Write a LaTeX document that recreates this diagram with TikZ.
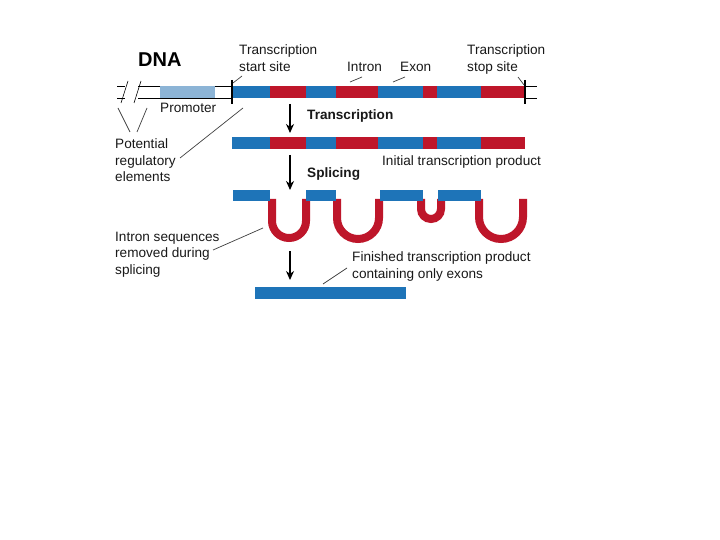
\documentclass[tikz,border=0pt]{standalone}
\usepackage{fontspec}
\setmainfont{Liberation Sans}
\usetikzlibrary{arrows.meta}
\definecolor{exblue}{RGB}{30,116,184}
\definecolor{inred}{RGB}{190,22,42}
\definecolor{promblue}{RGB}{140,180,214}
\tikzset{
  lbl/.style={anchor=base west, inner sep=0pt, font=\fontsize{13.6}{16.5}\selectfont, align=left, text=black!90},
  blbl/.style={lbl, font=\fontsize{13.6}{16.5}\selectfont\bfseries},
  leader/.style={draw=black!75, line width=0.7pt},
  flow/.style={draw=black, line width=1.4pt, -{Stealth[length=9pt,width=8pt]}},
  intron/.style={draw=inred, line width=8pt},
  thin/.style={draw=black, line width=0.6pt},
  bar/.style={draw=black, line width=1.6pt}
}
\newcommand{\seg}[5]{\fill[#5] (#1,#3) rectangle (#2,#4);}
\newcommand{\strand}[2]{%
  \seg{232}{270}{#1}{#2}{exblue}\seg{270}{306}{#1}{#2}{inred}%
  \seg{306}{336}{#1}{#2}{exblue}\seg{336}{378}{#1}{#2}{inred}%
  \seg{378}{423}{#1}{#2}{exblue}\seg{423}{437}{#1}{#2}{inred}%
  \seg{437}{481}{#1}{#2}{exblue}\seg{481}{525}{#1}{#2}{inred}}
\newcommand{\ushape}[4]{% cx, rm, top, yc
  \draw[intron] (#1-#2,#3) -- (#1-#2,#4) arc[start angle=180,end angle=0,radius=#2] -- (#1+#2,#3);}
\begin{document}
\begin{tikzpicture}[x=1pt,y=-1pt]
\useasboundingbox (0,0) rectangle (720,540);
\fill[white] (0,0) rectangle (720,540);

% ---- DNA row ----
\node[anchor=base west, inner sep=0pt, font=\fontsize{20}{22}\selectfont\bfseries] (dna) at (138,67) {DNA};
\draw[thin] (117,86) -- (125,86) (117,98) -- (125,98);
\draw[thin] (138,86) -- (232,86) (138,98) -- (232,98);
\fill[promblue] (160,86.3) rectangle (215,97.7);
\draw[thin] (121,103) -- (128,81) (134,103) -- (141,81);
\strand{86}{98}
\draw[bar] (232,80) -- (232,104);
\draw[bar] (525,80) -- (525,104);
\draw[thin] (525,86) -- (537,86) (525,98) -- (537,98);

\node[lbl] (promoter) at (160,113) {Promoter};
\node[lbl] (tss) at (239,71.5) {Transcription\\start site};
\node[lbl] (intronlbl) at (347,72) {Intron};
\node[lbl] (exonlbl) at (400,72) {Exon};
\node[lbl] (tstop) at (467,71.5) {Transcription\\stop site};
\node[lbl] (reg) at (115,182) {Potential\\regulatory\\elements};

\coordinate (tssA) at (242,76); \coordinate (tssB) at (233,83);
\draw[leader] (tssA) -- (tssB);
\coordinate (inA) at (362,77); \coordinate (inB) at (350,82);
\draw[leader] (inA) -- (inB);
\coordinate (exA) at (405,77); \coordinate (exB) at (393,82);
\draw[leader] (exA) -- (exB);
\coordinate (stA) at (518,77); \coordinate (stB) at (524,85);
\draw[leader] (stA) -- (stB);
\coordinate (r1) at (118,108); \coordinate (r2) at (130,132);
\coordinate (r3) at (147,108); \coordinate (r4) at (137,132);
\coordinate (r5) at (180,158); \coordinate (r6) at (243,108);
\draw[leader] (r1) -- (r2) (r3) -- (r4) (r5) -- (r6);

% ---- transcription ----
\coordinate (a1s) at (290,104); \coordinate (a1e) at (290,133);
\draw[flow] (a1s) -- (a1e);
\node[blbl] (trans) at (307,120) {Transcription};
\strand{137}{149}
\node[lbl] (initial) at (382,166) {Initial transcription product};

% ---- splicing ----
\coordinate (a2s) at (290,155); \coordinate (a2e) at (290,190);
\draw[flow] (a2s) -- (a2e);
\node[blbl] (splice) at (307,178) {Splicing};

\ushape{289}{17}{199}{221}
\ushape{358}{21}{199}{218}
\ushape{431}{10}{199}{209}
\ushape{501}{22}{199}{217}
\seg{233}{270}{190}{201}{exblue}
\seg{306}{336}{190}{201}{exblue}
\seg{380}{423}{190}{201}{exblue}
\seg{438}{481}{190}{201}{exblue}

\node[lbl] (introns) at (115,274) {Intron sequences\\removed during\\splicing};
\coordinate (isA) at (213,250); \coordinate (isB) at (263,228);
\draw[leader] (isA) -- (isB);

% ---- finished ----
\coordinate (a3s) at (290,251); \coordinate (a3e) at (290,280);
\draw[flow] (a3s) -- (a3e);
\node[lbl] (finished) at (352,278) {Finished transcription product\\containing only exons};
\coordinate (fA) at (323,284); \coordinate (fB) at (347,268);
\draw[leader] (fA) -- (fB);
\seg{255}{406}{287}{299}{exblue}
\end{tikzpicture}
\end{document}
